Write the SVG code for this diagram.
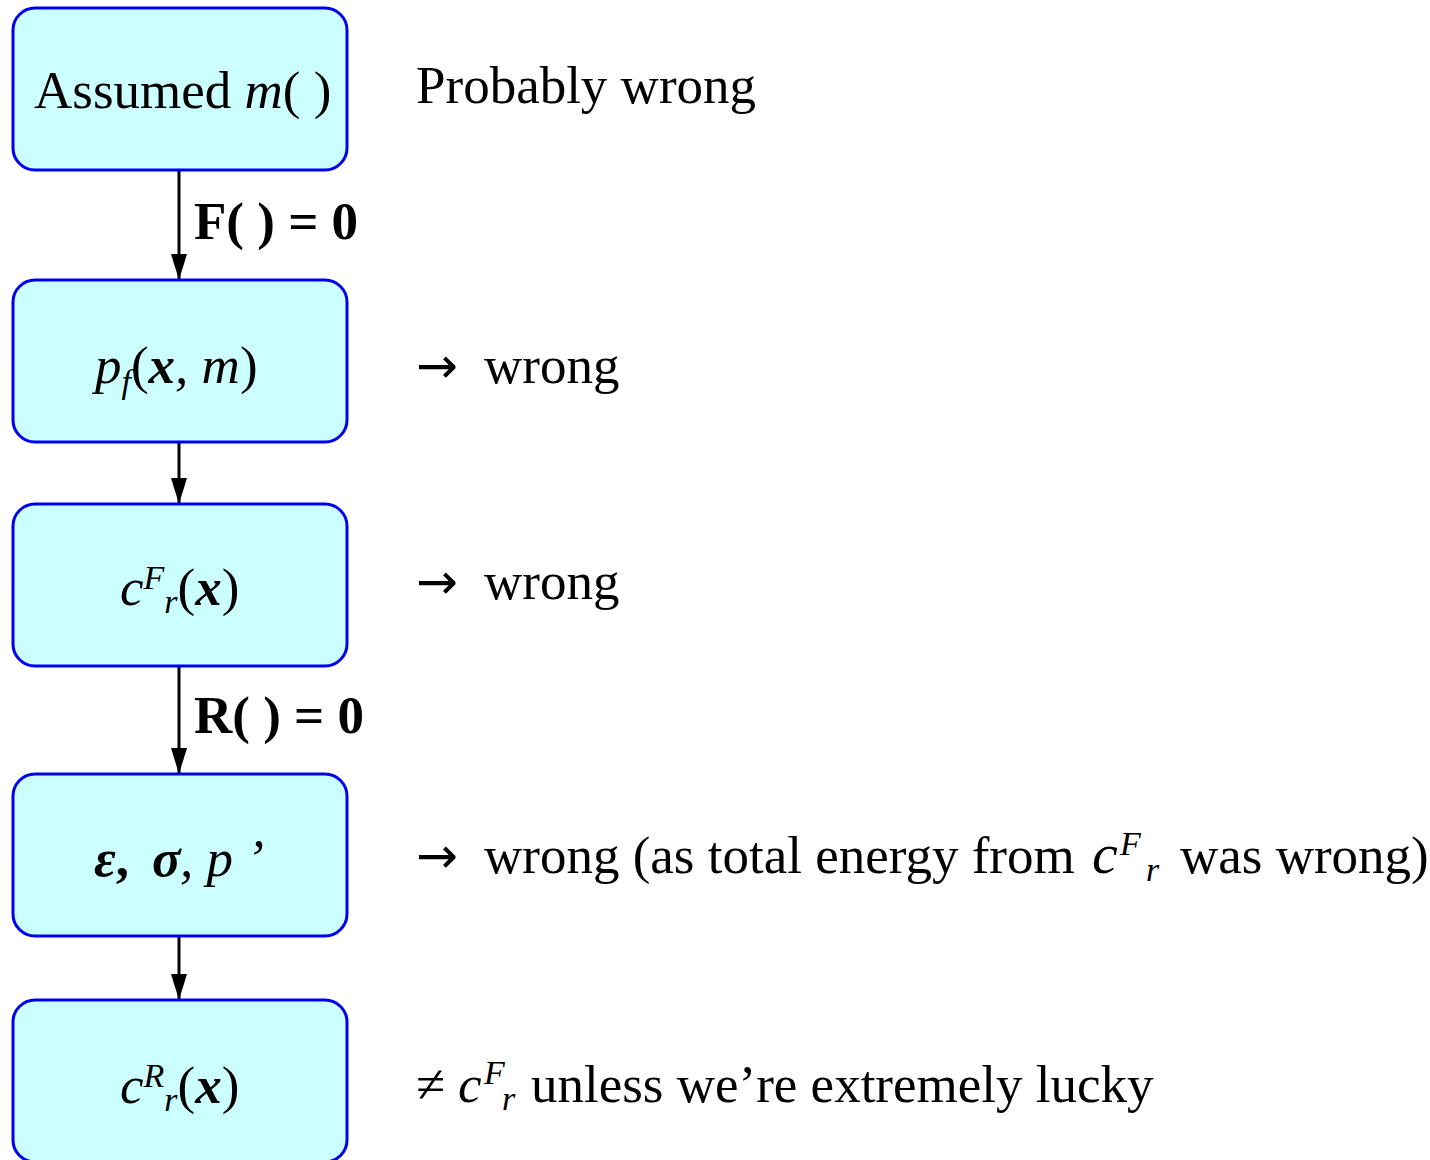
<svg xmlns="http://www.w3.org/2000/svg" width="1430" height="1160" viewBox="0 0 1430 1160">
<style>
.box{fill:#ccffff;stroke:#0000ee;stroke-width:3}
text{font-family:"Liberation Serif","Times New Roman",serif;font-size:53px;fill:#000}
.lbl{font-weight:bold;font-size:53px}
.i{font-style:italic}
.bi{font-style:italic;font-weight:bold}
.b{font-weight:bold}
.sm{font-size:34px}
.arr{font-family:"DejaVu Sans",sans-serif;font-size:50px}
.conn{stroke:#000;stroke-width:3;fill:none}
</style>
<defs>
<marker id="ah" markerWidth="26" markerHeight="16" refX="25" refY="8" orient="auto" markerUnits="userSpaceOnUse" viewBox="0 0 26 16">
<path d="M0,0 L26,8 L0,16 z" fill="#000"/>
</marker>
</defs>
<g id="connectors">
<line class="conn" x1="179" y1="171" x2="179" y2="279" marker-end="url(#ah)"/>
<line class="conn" x1="179" y1="443" x2="179" y2="503" marker-end="url(#ah)"/>
<line class="conn" x1="179" y1="667" x2="179" y2="773" marker-end="url(#ah)"/>
<line class="conn" x1="179" y1="937" x2="179" y2="999" marker-end="url(#ah)"/>
<text class="lbl" x="194" y="239">F( ) = 0</text>
<text class="lbl" x="194" y="733">R( ) = 0</text>
</g>
<g id="node1">
<rect class="box" x="13" y="8" width="334" height="162" rx="22"/>
<text x="34" y="108">Assumed <tspan class="i">m</tspan>( )</text>
</g>
<g id="node2">
<rect class="box" x="13" y="280" width="334" height="162" rx="22"/>
<text x="95" y="383"><tspan class="i">p</tspan><tspan class="i sm" dy="10">f</tspan><tspan dy="-10">(</tspan><tspan class="bi">x</tspan><tspan class="i">, m</tspan>)</text>
</g>
<g id="node3">
<rect class="box" x="13" y="504" width="334" height="162" rx="22"/>
<text x="120" y="605"><tspan class="i">c</tspan><tspan class="i sm" dy="-16">F</tspan><tspan class="i sm" dy="24">r</tspan><tspan dy="-8">(</tspan><tspan class="bi">x</tspan>)</text>
</g>
<g id="node4">
<rect class="box" x="13" y="774" width="334" height="162" rx="22"/>
<text x="94" y="876" font-size="56"><tspan class="bi">ε</tspan><tspan class="b">,</tspan><tspan class="bi" x="152">σ</tspan><tspan class="i" x="180">, p ’</tspan></text>
</g>
<g id="node5">
<rect class="box" x="13" y="1000" width="334" height="162" rx="22"/>
<text x="120" y="1103"><tspan class="i">c</tspan><tspan class="i sm" dy="-16">R</tspan><tspan class="i sm" dy="24">r</tspan><tspan dy="-8">(</tspan><tspan class="bi">x</tspan>)</text>
</g>
<g id="notes">
<text x="416" y="103">Probably wrong</text>
<text class="arr" x="416" y="383">→</text>
<text x="484" y="383">wrong</text>
<text class="arr" x="416" y="599">→</text>
<text x="484" y="599">wrong</text>
<text class="arr" x="416" y="873">→</text>
<text x="484" y="873">wrong (as total energy from <tspan class="i" x="1092" font-size="58">c</tspan><tspan class="i sm" x="1120" dy="-18">F</tspan><tspan class="i sm" x="1146" dy="26">r</tspan><tspan x="1180" dy="-8">was wrong)</tspan></text>
<text x="416" y="1102">≠ <tspan class="i" x="458">c</tspan><tspan class="i sm" x="484" dy="-18">F</tspan><tspan class="i sm" x="502" dy="26">r</tspan><tspan x="531" dy="-8">unless we’re extremely lucky</tspan></text>
</g>
</svg>
